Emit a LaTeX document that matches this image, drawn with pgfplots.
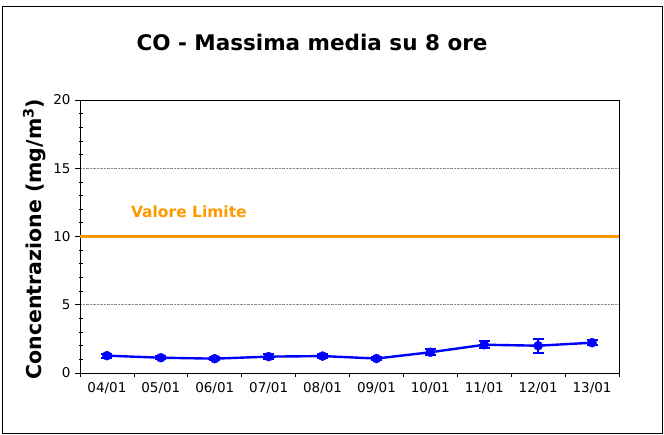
\documentclass[border=0pt]{standalone}
\usepackage{fontspec}
\setmainfont{DejaVu Sans}
\usepackage{pgfplots}
\usepackage{pgfplotstable}
\pgfplotsset{compat=1.18}
\definecolor{lineblue}{RGB}{0,0,255}
\definecolor{limorange}{RGB}{255,153,0}
\pgfplotstableread{
x y e
0 1.27 0.15
1 1.12 0.10
2 1.05 0.10
3 1.20 0.20
4 1.24 0.12
5 1.06 0.10
6 1.52 0.22
7 2.07 0.27
8 2.00 0.50
9 2.22 0.20
}\codata
\begin{document}
\begin{tikzpicture}[x=1pt,y=1pt]
\useasboundingbox (0,0) rectangle (664,434);
\draw[black, line width=0.8pt] (2,1) rectangle (662,428);
\node[font=\fontsize{21.5}{25}\selectfont\bfseries] at (312,392) {CO - Massima media su 8 ore};
\begin{axis}[
  at={(80pt,61pt)}, anchor=south west, scale only axis,
  width=539pt, height=273pt,
  xmin=-0.5, xmax=9.5, ymin=0, ymax=20,
  axis line style={black, line width=0.8pt},
  xtick={0,...,9},
  xticklabels={04/01,05/01,06/01,07/01,08/01,09/01,10/01,11/01,12/01,13/01},
  minor xtick={-0.5,0.5,1.5,2.5,3.5,4.5,5.5,6.5,7.5,8.5,9.5},
  major x tick style={draw=none},
  ytick={0,5,10,15,20},
  minor ytick={1,2,3,4,6,7,8,9,11,12,13,14,16,17,18,19},
  every minor y tick/.append style={xshift=3.5pt},
  tick align=outside,
  major tick length=5pt,
  minor tick length=4pt,
  tick style={black, line width=0.7pt},
  xtick pos=bottom, ytick pos=left,
  ymajorgrids,
  major grid style={densely dotted, black!45, line width=0.6pt},
  /pgf/number format/assume math mode=true,
  ticklabel style={font=\fontsize{13.5}{15}\selectfont},
  xticklabel style={yshift=-1pt},
  yticklabel style={xshift=-1pt},
  ylabel={Concentrazione (mg/m\textsuperscript{3})},
  ylabel style={at={(axis description cs:-0.085,0.49)}, anchor=center, font=\fontsize{20.5}{23}\selectfont\bfseries},
  clip=false,
]
\addplot[limorange, line width=2.6pt, forget plot] coordinates {(-0.5,10) (9.5,10)};
\node[font=\fontsize{15.5}{18}\selectfont\bfseries, text=limorange] at (axis cs:1.52,11.85) {Valore Limite};
\addplot[lineblue, line width=2.4pt, mark=*, mark size=4.5pt,
  mark options={fill=lineblue, draw=lineblue, line width=0.5pt},
  error bars/.cd, y dir=both, y explicit,
  error bar style={lineblue, line width=2pt},
  error mark options={rotate=90, mark size=5.5pt, lineblue, line width=2pt}]
  table[x=x, y=y, y error=e] {\codata};
\end{axis}
\end{tikzpicture}
\end{document}
